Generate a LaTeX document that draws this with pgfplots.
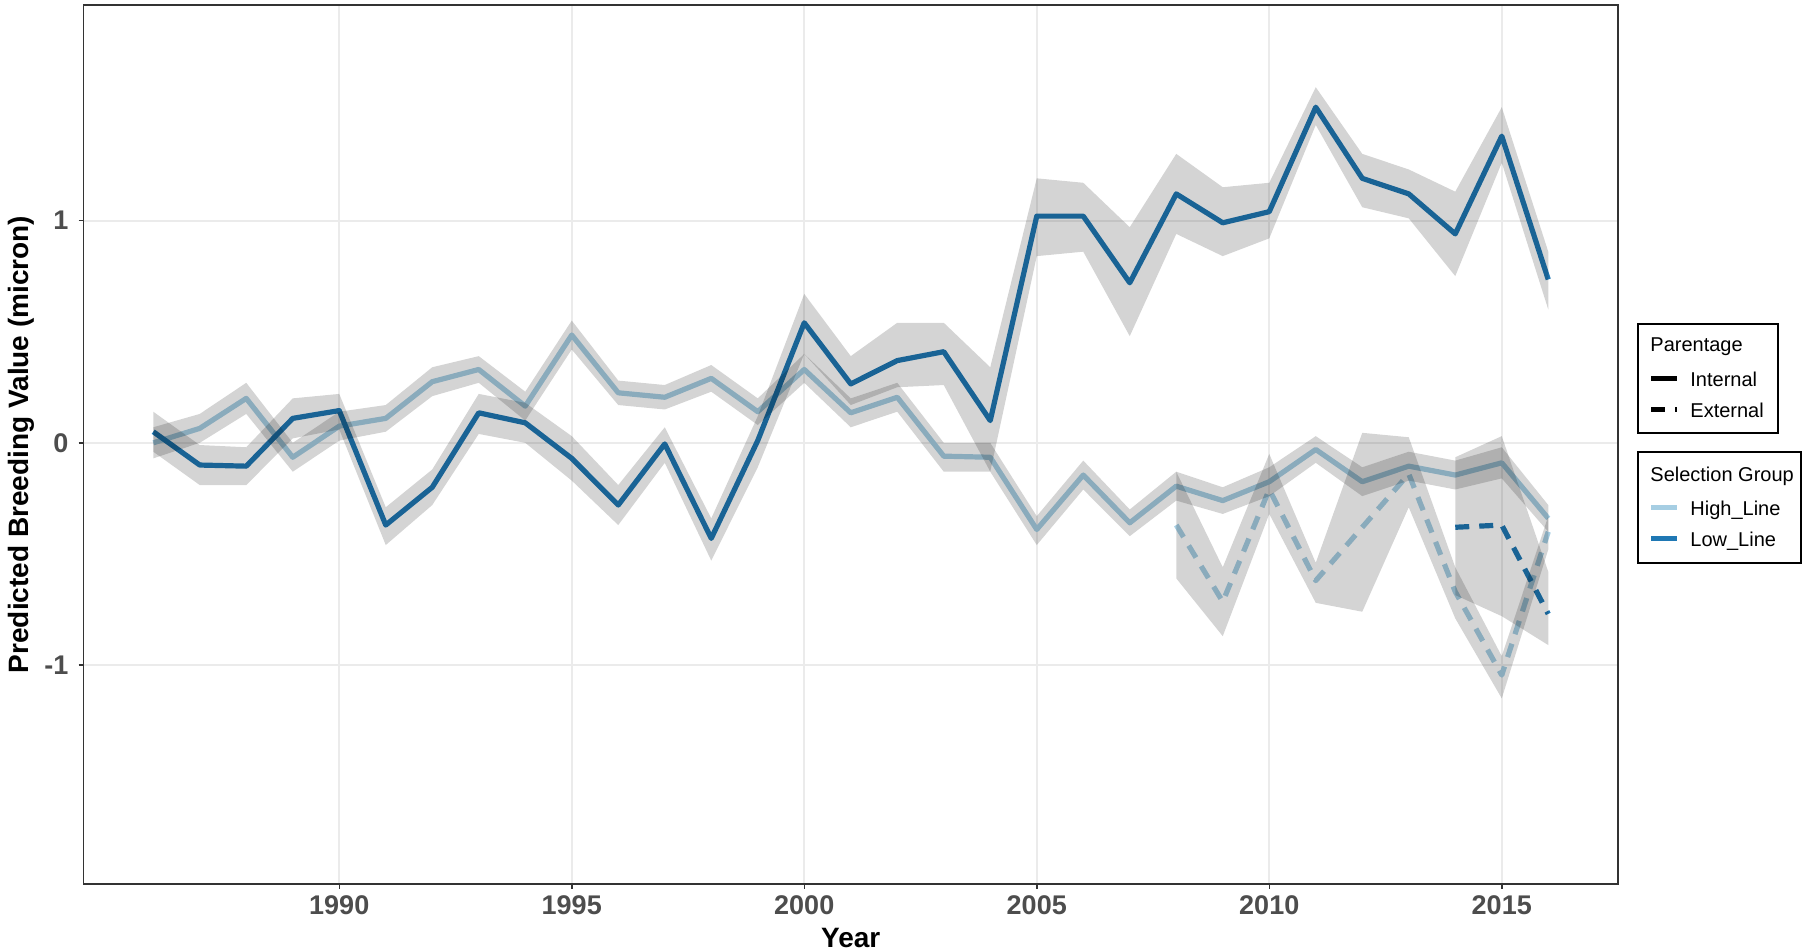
\documentclass[border=0pt]{standalone}
\usepackage{pgfplots}
\pgfplotsset{compat=1.18}
\usepackage{pgfplotstable}
\usepackage{fontspec}
\setmainfont{Liberation Sans}

\definecolor{highline}{HTML}{A6CEE3}
\definecolor{lowline}{HTML}{1F78B4}
\definecolor{gridc}{HTML}{EBEBEB}
\definecolor{axisc}{HTML}{333333}
\definecolor{tickc}{HTML}{4D4D4D}

% Predicted breeding values per year
\pgfplotstableread{
year val
1986 0.05
1987 -0.10
1988 -0.105
1989 0.11
1990 0.145
1991 -0.37
1992 -0.20
1993 0.135
1994 0.09
1995 -0.07
1996 -0.28
1997 -0.005
1998 -0.43
1999 0.01
2000 0.54
2001 0.265
2002 0.37
2003 0.41
2004 0.10
2005 1.02
2006 1.02
2007 0.72
2008 1.12
2009 0.99
2010 1.04
2011 1.51
2012 1.19
2013 1.12
2014 0.94
2015 1.38
2016 0.735
}\LowInt

\pgfplotstableread{
year val
1986 0.00
1987 0.065
1988 0.20
1989 -0.065
1990 0.075
1991 0.11
1992 0.275
1993 0.33
1994 0.165
1995 0.485
1996 0.225
1997 0.205
1998 0.29
1999 0.14
2000 0.33
2001 0.135
2002 0.205
2003 -0.06
2004 -0.065
2005 -0.39
2006 -0.145
2007 -0.36
2008 -0.195
2009 -0.26
2010 -0.175
2011 -0.03
2012 -0.175
2013 -0.105
2014 -0.145
2015 -0.09
2016 -0.34
}\HighInt

\pgfplotstableread{
year val
2008 -0.37
2009 -0.715
2010 -0.21
2011 -0.62
2012 -0.38
2013 -0.14
2014 -0.67
2015 -1.045
2016 -0.40
}\HighExt

\pgfplotstableread{
year val
2014 -0.38
2015 -0.37
2016 -0.77
}\LowExt

% Confidence bands as closed outlines: upper bound forwards, lower bound back
\pgfplotstableread{
year y
1986 0.14
1987 -0.01
1988 -0.02
1989 0.20
1990 0.22
1991 -0.29
1992 -0.12
1993 0.22
1994 0.18
1995 0.03
1996 -0.19
1997 0.07
1998 -0.34
1999 0.12
2000 0.67
2001 0.39
2002 0.54
2003 0.54
2004 0.34
2005 1.19
2006 1.17
2007 0.97
2008 1.30
2009 1.15
2010 1.17
2011 1.60
2012 1.30
2013 1.23
2014 1.13
2015 1.51
2016 0.86
2016 0.60
2015 1.26
2014 0.75
2013 1.01
2012 1.06
2011 1.43
2010 0.92
2009 0.84
2008 0.94
2007 0.48
2006 0.86
2005 0.84
2004 -0.13
2003 0.26
2002 0.25
2001 0.17
2000 0.40
1999 -0.11
1998 -0.53
1997 -0.09
1996 -0.37
1995 -0.17
1994 0.00
1993 0.04
1992 -0.28
1991 -0.46
1990 0.06
1989 0.02
1988 -0.19
1987 -0.19
1986 -0.04
}\LowIntBand

\pgfplotstableread{
year y
1986 0.07
1987 0.13
1988 0.27
1989 0.00
1990 0.14
1991 0.17
1992 0.34
1993 0.39
1994 0.23
1995 0.55
1996 0.28
1997 0.26
1998 0.35
1999 0.20
2000 0.40
2001 0.20
2002 0.27
2003 0.00
2004 0.00
2005 -0.33
2006 -0.08
2007 -0.30
2008 -0.13
2009 -0.20
2010 -0.11
2011 0.03
2012 -0.11
2013 -0.04
2014 -0.08
2015 -0.02
2016 -0.28
2016 -0.40
2015 -0.16
2014 -0.21
2013 -0.17
2012 -0.24
2011 -0.09
2010 -0.24
2009 -0.32
2008 -0.26
2007 -0.42
2006 -0.21
2005 -0.46
2004 -0.13
2003 -0.13
2002 0.14
2001 0.07
2000 0.27
1999 0.08
1998 0.23
1997 0.15
1996 0.17
1995 0.42
1994 0.10
1993 0.27
1992 0.21
1991 0.05
1990 0.01
1989 -0.13
1988 0.13
1987 0.00
1986 -0.07
}\HighIntBand

\pgfplotstableread{
year y
2008 -0.13
2009 -0.56
2010 -0.05
2011 -0.54
2012 0.045
2013 0.025
2014 -0.56
2015 -0.96
2016 -0.33
2016 -0.48
2015 -1.15
2014 -0.79
2013 -0.29
2012 -0.76
2011 -0.72
2010 -0.32
2009 -0.87
2008 -0.61
}\HighExtBand

\pgfplotstableread{
year y
2014 -0.065
2015 0.03
2016 -0.58
2016 -0.91
2015 -0.78
2014 -0.685
}\LowExtBand

\begin{document}
\begin{tikzpicture}
\path[use as bounding box] (0,0) rectangle (905pt,475.5pt);
\begin{axis}[
  at={(41.75pt,33.5pt)}, anchor=south west, scale only axis,
  width=767.25pt, height=439.5pt,
  xmin=1984.5, xmax=2017.5, ymin=-1.985, ymax=1.97,
  xtick={1990,1995,2000,2005,2010,2015},
  xticklabels={1990,1995,2000,2005,2010,2015},
  ytick={-1,0,1}, yticklabels={-1,0,1},
  xtick pos=lower, ytick pos=left,
  grid=major, major grid style={gridc, line width=1pt},
  axis line style={axisc, line width=0.75pt},
  tick align=outside, major tick length=2.5pt,
  tick style={axisc, line width=0.75pt},
  /pgf/number format/assume math mode=true,
  ticklabel style={font=\fontsize{13.5}{16}\selectfont\bfseries, text=tickc},
  yticklabel style={xshift=-1.5pt},
  xlabel={Year}, ylabel={Predicted Breeding Value (micron)},
  label style={font=\fontsize{14}{16}\selectfont\bfseries, text=black},
  xlabel style={at={(axis description cs:0.5,-0.061)}, anchor=center},
  ylabel style={at={(axis description cs:-0.0405,0.5)}, anchor=center},
]
% estimates
\addplot[highline, line width=2.6pt, line join=round] table[x=year, y=val] {\HighInt};
\addplot[lowline, line width=2.6pt, line join=round] table[x=year, y=val] {\LowInt};
\addplot[highline, line width=2.6pt, line join=round, dash pattern=on 7pt off 5pt] table[x=year, y=val] {\HighExt};
\addplot[lowline, line width=2.6pt, line join=round, dash pattern=on 7pt off 5pt] table[x=year, y=val] {\LowExt};

% confidence bands drawn over the lines
\addplot[fill=black, fill opacity=0.17, draw=none] table[x=year, y=y] {\HighIntBand} -- cycle;
\addplot[fill=black, fill opacity=0.17, draw=none] table[x=year, y=y] {\LowIntBand} -- cycle;
\addplot[fill=black, fill opacity=0.17, draw=none] table[x=year, y=y] {\HighExtBand} -- cycle;
\addplot[fill=black, fill opacity=0.17, draw=none] table[x=year, y=y] {\LowExtBand} -- cycle;
\end{axis}

% legends
\begin{scope}[font=\fontsize{10}{12}\selectfont]
  \draw[black, line width=0.75pt] (819pt,259pt) rectangle (889pt,313.5pt);
  \node[anchor=base west, inner sep=0pt] at (825pt,299.9pt) {Parentage};
  \draw[black, line width=2.6pt] (825.5pt,286.3pt) -- (838.5pt,286.3pt);
  \node[anchor=base west, inner sep=0pt] at (845pt,282.4pt) {Internal};
  \draw[black, line width=2.6pt, dash pattern=on 7pt off 5pt] (825.5pt,270.8pt) -- (838.5pt,270.8pt);
  \node[anchor=base west, inner sep=0pt] at (845pt,266.9pt) {External};

  \draw[black, line width=0.75pt] (819pt,194pt) rectangle (900.5pt,249.5pt);
  \node[anchor=base west, inner sep=0pt] at (825pt,234.9pt) {Selection Group};
  \draw[highline, line width=2.6pt] (825.5pt,221.8pt) -- (838.5pt,221.8pt);
  \node[anchor=base west, inner sep=0pt] at (845pt,217.9pt) {High\_Line};
  \draw[lowline, line width=2.6pt] (825.5pt,206.3pt) -- (838.5pt,206.3pt);
  \node[anchor=base west, inner sep=0pt] at (845pt,202.4pt) {Low\_Line};
\end{scope}
\end{tikzpicture}
\end{document}
